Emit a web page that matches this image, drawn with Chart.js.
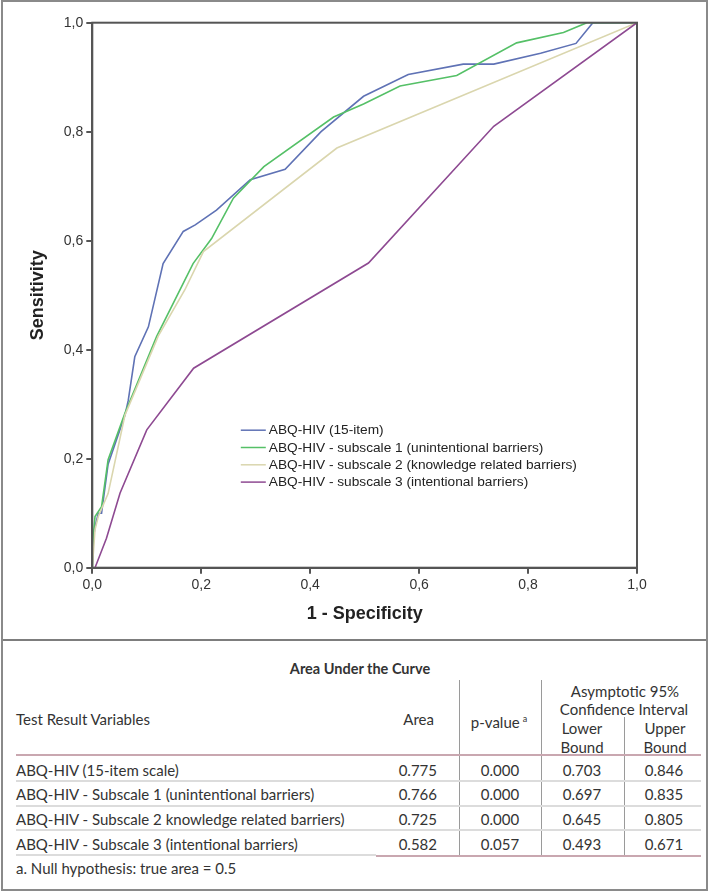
<!DOCTYPE html>
<html>
<head>
<meta charset="utf-8">
<script src="https://cdn.jsdelivr.net/npm/chart.js@4/dist/chart.umd.min.js"></script>
<style>
  body { margin: 0; background: #fff; }
  #pagina { position: relative; width: 709px; height: 893px; overflow: hidden; font-family: Lato, "Open Sans", sans-serif; color: #333; }
  #marco { position: absolute; left: 1px; top: 0px; width: 703px; height: 887px; border: 2px solid #8a8a8a; pointer-events: none; }
  #separador { position: absolute; left: 2px; top: 639px; width: 704px; height: 2px; background: #7d7d7d; }
  .txt { position: absolute; white-space: nowrap; font-size: 15px; line-height: 18px; }
  .linea { position: absolute; }
</style>
</head>
<body>
<div id="pagina">
  <canvas id="grafico-roc" width="709" height="633" style="position:absolute;left:0;top:0;width:709px;height:633px"></canvas>
  <div id="separador"></div>
  <div id="tabla"></div>
  <div id="marco"></div>
</div>
<script>
// curvas ROC (1 - especificidad, sensibilidad)
const xItem15 = [0, 0, 0.005, 0.011, 0.017, 0.029, 0.06, 0.066, 0.078, 0.103, 0.13, 0.167, 0.189, 0.228, 0.29, 0.354, 0.42, 0.498, 0.58, 0.681, 0.737, 0.823, 0.888, 0.919, 1];
const yItem15 = [0, 0.04, 0.075, 0.10, 0.10, 0.19, 0.28, 0.307, 0.387, 0.442, 0.558, 0.617, 0.629, 0.656, 0.712, 0.731, 0.80, 0.865, 0.905, 0.924, 0.924, 0.944, 0.962, 1, 1];

const xSub1 = [0, 0.002, 0.005, 0.017, 0.029, 0.06, 0.118, 0.185, 0.219, 0.259, 0.315, 0.443, 0.498, 0.565, 0.669, 0.779, 0.865, 0.908, 1];
const ySub1 = [0, 0.06, 0.094, 0.112, 0.198, 0.284, 0.424, 0.558, 0.604, 0.678, 0.736, 0.827, 0.851, 0.884, 0.903, 0.963, 0.982, 1, 1];

const xSub2 = [0, 0.005, 0.011, 0.029, 0.06, 0.121, 0.17, 0.204, 0.449, 1];
const ySub2 = [0, 0.07, 0.094, 0.136, 0.28, 0.425, 0.51, 0.58, 0.77, 1];

const xSub3 = [0, 0.005, 0.026, 0.051, 0.1, 0.186, 0.507, 0.737, 1];
const ySub3 = [0, 0, 0.054, 0.137, 0.253, 0.366, 0.559, 0.81, 1];

const nombresSeries = [
    'ABQ-HIV (15-item)',
    'ABQ-HIV - subscale 1 (unintentional barriers)',
    'ABQ-HIV - subscale 2 (knowledge related barriers)',
    'ABQ-HIV - subscale 3 (intentional barriers)'
];
const coloresSeries = ['#5f72b5', '#55c067', '#dad6ae', '#8e4a92'];

const marcasEje = [0, 0.2, 0.4, 0.6, 0.8, 1.0];

// tabla de areas
const variablesTabla = [
    'ABQ-HIV (15-item scale)',
    'ABQ-HIV - Subscale 1 (unintentional barriers)',
    'ABQ-HIV - Subscale 2 knowledge related barriers)',
    'ABQ-HIV - Subscale 3 (intentional barriers)'
];
const areas = ['0.775', '0.766', '0.725', '0.582'];
const valoresP = ['0.000', '0.000', '0.000', '0.057'];
const limitesInf = ['0.703', '0.697', '0.645', '0.493'];
const limitesSup = ['0.846', '0.835', '0.805', '0.671'];

document.addEventListener("DOMContentLoaded", () => {
    inicializarGrafico();
    construirTabla();
});

function puntos(xs, ys) {
    return xs.map((x, i) => ({ x: x, y: ys[i] }));
}

function inicializarGrafico() {
    const ctx = document.getElementById('grafico-roc');

    const marcoYLeyenda = {
        id: 'marcoYLeyenda',
        afterDatasetsDraw(chart) {
            const { ctx, chartArea: a } = chart;
            ctx.save();
            ctx.strokeStyle = '#555';
            ctx.lineWidth = 2;
            ctx.strokeRect(a.left, a.top, a.right - a.left, a.bottom - a.top);

            // leyenda dentro del area
            const x0 = a.left + 148.5;
            const y0 = a.top + 407.5;
            ctx.font = '13.7px "Liberation Sans", Arial, sans-serif';
            ctx.textBaseline = 'middle';
            ctx.fillStyle = '#222';
            chart.data.datasets.forEach((ds, i) => {
                const y = y0 + i * 17.3;
                ctx.strokeStyle = ds.borderColor;
                ctx.lineWidth = 1.5;
                ctx.beginPath();
                ctx.moveTo(x0, y);
                ctx.lineTo(x0 + 25, y);
                ctx.stroke();
                ctx.fillText(ds.label, x0 + 28, y + 0.5);
            });
            ctx.restore();
        }
    };

    const series = [[xItem15, yItem15], [xSub1, ySub1], [xSub2, ySub2], [xSub3, ySub3]];

    new Chart(ctx, {
        type: 'scatter',
        data: {
            datasets: series.map((s, i) => ({
                label: nombresSeries[i],
                data: puntos(s[0], s[1]),
                showLine: true,
                borderColor: coloresSeries[i],
                backgroundColor: coloresSeries[i],
                borderWidth: 1.6,
                pointRadius: 0,
                tension: 0,
                order: 3 - i
            }))
        },
        options: {
            responsive: false,
            animation: false,
            layout: { padding: { left: 0, top: 22.7, right: 72, bottom: 0 } },
            plugins: {
                legend: { display: false },
                tooltip: { enabled: false }
            },
            scales: {
                x: {
                    type: 'linear',
                    min: 0, max: 1,
                    afterFit: (escala) => { escala.height = 65.3; },
                    afterBuildTicks: (escala) => { escala.ticks = marcasEje.map(v => ({ value: v })); },
                    ticks: {
                        padding: 3,
                        color: '#333',
                        font: { family: '"Liberation Sans", Arial', size: 14 },
                        callback: (v) => v.toFixed(1).replace('.', ',')
                    },
                    grid: { display: true, drawOnChartArea: false, drawTicks: true, tickLength: 6, color: '#555', lineWidth: 2 },
                    border: { display: true, color: '#555', width: 2 },
                    title: {
                        display: true,
                        text: '1 - Specificity',
                        color: '#222',
                        font: { family: '"Liberation Sans", Arial', size: 18, weight: 'bold' },
                        padding: { top: 0, bottom: 8.2 }
                    }
                },
                y: {
                    type: 'linear',
                    min: 0, max: 1,
                    afterFit: (escala) => { escala.width = 92.3; },
                    afterBuildTicks: (escala) => { escala.ticks = marcasEje.map(v => ({ value: v })); },
                    ticks: {
                        padding: 3,
                        color: '#333',
                        font: { family: '"Liberation Sans", Arial', size: 14 },
                        callback: (v) => v.toFixed(1).replace('.', ',')
                    },
                    grid: { display: true, drawOnChartArea: false, drawTicks: true, tickLength: 6, color: '#555', lineWidth: 2 },
                    border: { display: true, color: '#555', width: 2 },
                    title: {
                        display: true,
                        text: 'Sensitivity',
                        color: '#222',
                        font: { family: '"Liberation Sans", Arial', size: 18, weight: 'bold' },
                        padding: { top: 27.7, bottom: 0 }
                    }
                }
            }
        },
        plugins: [marcoYLeyenda]
    });
}

function texto(contenedor, str, x, yCentro, alineacion, extra) {
    const el = document.createElement('div');
    el.className = 'txt';
    el.innerHTML = str;
    el.style.top = (yCentro - 9) + 'px';
    if (alineacion === 'right') {
        el.style.right = (709 - x) + 'px';
    } else if (alineacion === 'center') {
        el.style.left = (x - 200) + 'px';
        el.style.width = '400px';
        el.style.textAlign = 'center';
    } else {
        el.style.left = x + 'px';
    }
    if (extra) Object.assign(el.style, extra);
    contenedor.appendChild(el);
}

function linea(contenedor, x, y, w, h, color) {
    const el = document.createElement('div');
    el.className = 'linea';
    el.style.left = x + 'px';
    el.style.top = y + 'px';
    el.style.width = w + 'px';
    el.style.height = h + 'px';
    el.style.background = color;
    contenedor.appendChild(el);
}

function construirTabla() {
    const t = document.getElementById('tabla');

    texto(t, 'Area Under the Curve', 360, 669, 'center', { fontWeight: 'bold', fontSize: '14.5px' });

    texto(t, 'Test Result Variables', 16, 719, 'left');
    texto(t, 'Area', 434, 719, 'right');
    texto(t, 'p-value<sup style="font-size:9px;vertical-align:6px;margin-left:3px">a</sup>', 499, 719, 'center');
    texto(t, 'Asymptotic 95%', 625, 690.5, 'center');
    texto(t, 'Confidence Interval', 624, 709, 'center');
    texto(t, 'Lower', 582, 728, 'center');
    texto(t, 'Bound', 582, 746.5, 'center');
    texto(t, 'Upper', 665, 728, 'center');
    texto(t, 'Bound', 665, 746.5, 'center');

    // lineas verticales
    linea(t, 459, 680, 1, 176, '#9a9a9a');
    linea(t, 541, 680, 1, 176, '#9a9a9a');
    linea(t, 624, 717, 1, 139, '#9a9a9a');

    // regla del encabezado
    linea(t, 16, 754, 685, 2, '#c9a7b0');

    const filasY = [769.5, 794, 819, 844];
    const separadoresY = [780, 805, 829];
    separadoresY.forEach(y => linea(t, 16, y, 685, 2, '#dcdcdc'));
    linea(t, 16, 854, 360, 2, '#dcdcdc');
    linea(t, 376, 855, 325, 2, '#c9a7b0');

    variablesTabla.forEach((nombre, i) => {
        const y = filasY[i];
        texto(t, nombre, 16, y, 'left');
        texto(t, areas[i], 437, y, 'right');
        texto(t, valoresP[i], 500, y, 'center');
        texto(t, limitesInf[i], 582, y, 'center');
        texto(t, limitesSup[i], 664, y, 'center');
    });

    texto(t, 'a. Null hypothesis: true area = 0.5', 16, 868, 'left');
}
</script>
</body>
</html>
